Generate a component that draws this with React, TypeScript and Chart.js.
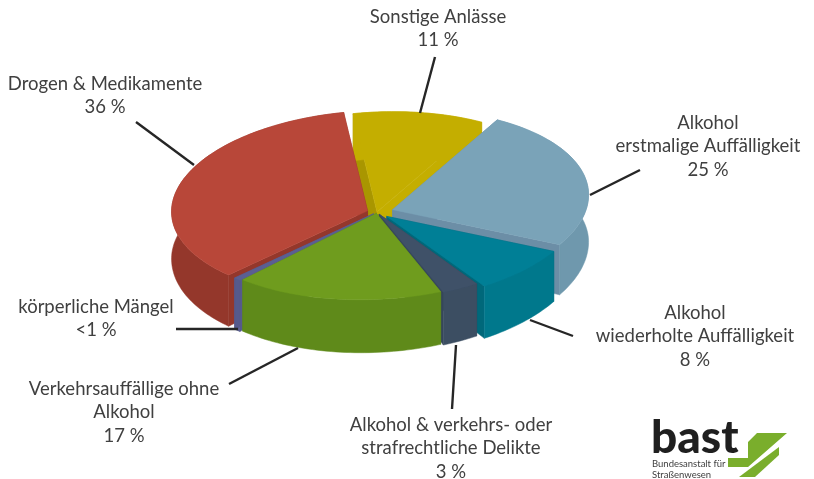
import React, { useEffect, useRef } from "react";
import { Chart, registerables } from "chart.js";

Chart.register(...registerables);

const categories = [
  "Sonstige Anlässe",
  "Alkohol erstmalige Auffälligkeit",
  "Alkohol wiederholte Auffälligkeit",
  "Alkohol & verkehrs- oder strafrechtliche Delikte",
  "Verkehrsauffällige ohne Alkohol",
  "körperliche Mängel",
  "Drogen & Medikamente",
];
const shares = [11, 25, 8, 3, 17.4, 0.6, 35.8];
const faceColors = ["#C4AE00", "#7AA3B8", "#007F96", "#3F5168", "#6F9C1E", "#5B5F92", "#B84739"];
const wallColors = ["#C4AE00", "#6F98AD", "#00788C", "#3C4E62", "#5F8A1A", "#565A8C", "#94372B"];
const cutStartColors = ["#A99600", "#6C8EA6", "#00687A", "#36475A", "#5F8A1A", "#565A8C", "#94372B"];
const cutEndColors = ["#C4AE00", "#6C8EA6", "#00687A", "#36475A", "#5F8A1A", "#565A8C", "#94372B"];
const explode = [0, 64, 56, 20, 12, 20, 40];
const paintOrder = [0, 6, 1, 2, 3, 5, 4];

const labelLines = [
  { lines: ["Sonstige Anlässe", "11 %"], x: 438, y: 17 },
  { lines: ["Alkohol", "erstmalige Auffälligkeit", "25 %"], x: 708, y: 123 },
  { lines: ["Alkohol", "wiederholte Auffälligkeit", "8 %"], x: 695, y: 313 },
  { lines: ["Alkohol & verkehrs- oder", "strafrechtliche Delikte", "3 %"], x: 451, y: 425 },
  { lines: ["Verkehrsauffällige ohne", "Alkohol", "17 %"], x: 124, y: 389 },
  { lines: ["körperliche Mängel", "<1 %"], x: 96, y: 307 },
  { lines: ["Drogen & Medikamente", "36 %"], x: 105, y: 84 },
];
const leaders = [
  [435, 57, 420, 113],
  [640, 170, 590, 195],
  [573, 336, 530, 320],
  [456, 345, 452, 409],
  [229, 384, 298, 348],
  [176, 329, 238, 329],
  [136, 122, 194, 165],
];

const SQUASH = 0.4745;
const SHEAR = -0.04;
const LIFT = 7;

function project(cx: number, cy: number, u: number, v: number, R: number) {
  const r = Math.hypot(u, v);
  return { x: cx + u, y: cy - (LIFT * r) / R + SQUASH * v + SHEAR * u };
}
function depthAt(v: number, r: number) {
  return 47 + 6 * Math.max(0, v / r);
}

const pie3d = {
  id: "pie3d",
  beforeDatasetsDraw(chart: any) {
    const ctx = chart.ctx;
    const arcs = chart.getDatasetMeta(0).data;
    paintOrder.forEach((i) => {
      const a = arcs[i];
      const mid = (a.startAngle + a.endAngle) / 2;
      const off = (a.options.offset || 0) / 4;
      const ax = Math.cos(mid) * off;
      const ay = Math.sin(mid) * off;
      const R = a.outerRadius;
      const n = Math.max(4, Math.ceil((a.endAngle - a.startAngle) * 40));
      const rim: { u: number; v: number }[] = [];
      for (let k = 0; k <= n; k++) {
        const t = a.startAngle + ((a.endAngle - a.startAngle) * k) / n;
        rim.push({ u: R * Math.cos(t), v: R * Math.sin(t) });
      }
      const top = (p: { u: number; v: number }) => {
        const q = project(a.x, a.y, p.u, p.v, R);
        return { x: q.x + ax, y: q.y + SQUASH * ay + SHEAR * ax };
      };
      const low = (p: { u: number; v: number }) => {
        const q = top(p);
        return { x: q.x, y: q.y + depthAt(p.v, R) };
      };
      const apex = { u: 0, v: 0 };
      const poly = (pts: { x: number; y: number }[], color: string) => {
        ctx.beginPath();
        pts.forEach((p, j) => (j ? ctx.lineTo(p.x, p.y) : ctx.moveTo(p.x, p.y)));
        ctx.closePath();
        ctx.fillStyle = color;
        ctx.strokeStyle = color;
        ctx.lineWidth = 0.5;
        ctx.fill();
        ctx.stroke();
      };
      const first = rim[0];
      const last = rim[rim.length - 1];
      poly([top(apex), top(first), low(first), low(apex)], cutStartColors[i]);
      poly([top(apex), top(last), low(last), low(apex)], cutEndColors[i]);
      poly([...rim.map(top), ...rim.slice().reverse().map(low)], wallColors[i]);
      poly([top(apex), ...rim.map(top)], faceColors[i]);
    });

    ctx.save();
    ctx.strokeStyle = "#262626";
    ctx.lineWidth = 2.4;
    leaders.forEach(([x1, y1, x2, y2]) => {
      ctx.beginPath();
      ctx.moveTo(x1, y1);
      ctx.lineTo(x2, y2);
      ctx.stroke();
    });
    ctx.fillStyle = "#404040";
    ctx.font = "18.5px Lato";
    ctx.textAlign = "center";
    ctx.textBaseline = "middle";
    labelLines.forEach((l) => {
      l.lines.forEach((s, j) => ctx.fillText(s, l.x, l.y + j * 23.5));
    });

    ctx.fillStyle = "#1F1F1F";
    ctx.textAlign = "left";
    ctx.textBaseline = "alphabetic";
    ctx.font = "900 46px Lato";
    ctx.fillText("bast", 651, 453);
    ctx.fillStyle = "#404040";
    ctx.font = "9.5px Lato";
    ctx.fillText("Bundesanstalt für", 652, 467);
    ctx.fillText("Straßenwesen", 652, 478);

    ctx.fillStyle = "#7AAE2C";
    ctx.beginPath();
    ctx.moveTo(757, 433);
    ctx.lineTo(787, 433);
    ctx.lineTo(748, 467);
    ctx.lineTo(728, 467);
    ctx.lineTo(728, 458);
    ctx.lineTo(748, 458);
    ctx.lineTo(748, 442);
    ctx.closePath();
    ctx.fill();
    ctx.beginPath();
    ctx.moveTo(779, 447);
    ctx.lineTo(779, 455);
    ctx.lineTo(755, 477);
    ctx.lineTo(739, 477);
    ctx.closePath();
    ctx.fill();
    ctx.restore();
    return false;
  },
};

export default function App() {
  const ref = useRef<HTMLCanvasElement | null>(null);
  useEffect(() => {
    const chart = new Chart(ref.current as HTMLCanvasElement, {
      type: "pie",
      data: {
        labels: categories,
        datasets: [
          {
            data: shares,
            backgroundColor: faceColors,
            borderWidth: 0,
            offset: explode,
            hoverOffset: 0,
            radius: 196,
          } as any,
        ],
      },
      options: {
        responsive: false,
        animation: false,
        rotation: -7,
        layout: { padding: { left: 0, right: 60, top: 0, bottom: 55 } },
        plugins: { legend: { display: false }, tooltip: { enabled: false } },
      },
      plugins: [pie3d],
    } as any);
    return () => chart.destroy();
  }, []);
  return (
    <div style={{ position: "fixed", left: 0, top: 0, width: 814, height: 479, background: "#fff" }}>
      <canvas ref={ref} width={814} height={479} style={{ display: "block" }} />
    </div>
  );
}
